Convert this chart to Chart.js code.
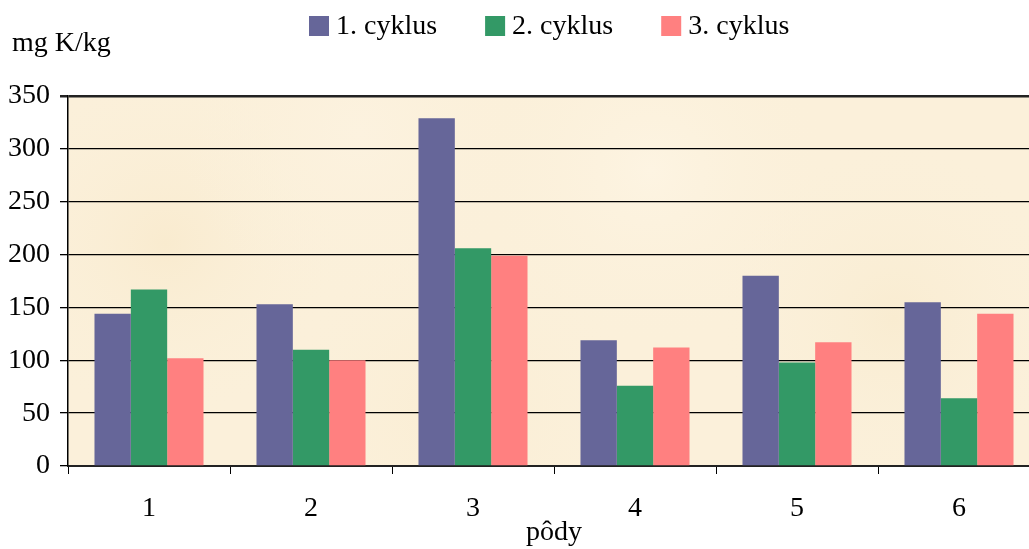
<!DOCTYPE html>
<html lang="sk">
<head>
<meta charset="UTF-8">
<title>Draslík v pôdach</title>
<script src="https://cdn.jsdelivr.net/npm/chart.js"></script>
<style>
  html, body { margin: 0; padding: 0; background: #fff; overflow: hidden; }
  #clip { width: 1029px; height: 549px; overflow: hidden; position: relative; }
  #wrap { width: 1041px; height: 549px; position: relative; }
</style>
</head>
<body>
<div id="clip"><div id="wrap"><canvas id="chart"></canvas></div></div>
<script>
// pôdy a obsah K v troch cykloch
const podyLabels = ['1', '2', '3', '4', '5', '6'];
const cyklus1 = [144, 153, 329, 119, 180, 155];
const cyklus2 = [167, 110, 206, 76, 98, 64];
const cyklus3 = [102, 100, 199, 112, 117, 144];
const seriesNames = ['1. cyklus', '2. cyklus', '3. cyklus'];
const seriesColors = ['#666699', '#339966', '#FF8080'];
const yTicks = [0, 50, 100, 150, 200, 250, 300, 350];

const serif = '"Liberation Serif", "Times New Roman", serif';
const fontSize = 28;

// béžové pozadie plochy grafu
const plotBg = {
    id: 'plotBg',
    beforeDraw(chart) {
        const { ctx, chartArea: a } = chart;
        const w = a.right - a.left, h = a.bottom - a.top;
        ctx.save();
        ctx.fillStyle = '#fbf0da';
        ctx.fillRect(a.left, a.top, w, h);
        const spots = [[0.1, 0.4, '#f9ebcf'], [0.4, 0.85, '#faedd3'], [0.6, 0.2, '#fdf4e2'],
                       [0.85, 0.6, '#f9ecd1'], [0.3, 0.1, '#fcf2df']];
        spots.forEach(([fx, fy, c]) => {
            const x = a.left + fx * w, y = a.top + fy * h;
            const g = ctx.createRadialGradient(x, y, 0, x, y, 180);
            g.addColorStop(0, c);
            g.addColorStop(1, 'rgba(251,240,218,0)');
            ctx.fillStyle = g;
            ctx.fillRect(a.left, a.top, w, h);
        });
        ctx.restore();
    }
};

// legenda a popis osi y
const legendAndUnit = {
    id: 'legendAndUnit',
    afterDraw(chart) {
        const { ctx } = chart;
        ctx.save();
        ctx.font = fontSize + 'px ' + serif;
        ctx.fillStyle = '#000';
        ctx.textBaseline = 'alphabetic';
        ctx.fillText('mg K/kg', 12, 51);

        let x = 309;
        chart.data.datasets.forEach(ds => {
            ctx.fillStyle = ds.backgroundColor;
            ctx.fillRect(x, 16, 20, 20);
            x += 27;
            ctx.fillStyle = '#000';
            ctx.fillText(ds.label, x, 34);
            x += ctx.measureText(ds.label).width + 48;
        });
        ctx.restore();
    }
};

new Chart(document.getElementById('chart'), {
    type: 'bar',
    data: {
        labels: podyLabels,
        datasets: [cyklus1, cyklus2, cyklus3].map((d, i) => ({
            label: seriesNames[i],
            data: d,
            backgroundColor: seriesColors[i],
            borderWidth: 0,
            categoryPercentage: 0.673,
            barPercentage: 1.0
        }))
    },
    options: {
        responsive: true,
        maintainAspectRatio: false,
        animation: false,
        layout: { padding: { left: 0, right: 1, top: 96, bottom: 0 } },
        plugins: {
            legend: { display: false },
            tooltip: { enabled: false }
        },
        scales: {
            x: {
                grid: {
                    offset: true,
                    drawOnChartArea: false,
                    color: '#000',
                    tickLength: 8,
                    lineWidth: 1
                },
                border: { color: '#222', width: 2 },
                ticks: { color: '#000', font: { family: serif, size: fontSize }, padding: 18 },
                title: {
                    display: true,
                    text: 'pôdy',
                    color: '#000',
                    font: { family: serif, size: fontSize },
                    padding: { top: 0, bottom: 0 }
                },
                afterFit(scale) { scale.height = 83; }
            },
            y: {
                min: 0,
                max: 350,
                afterBuildTicks(scale) { scale.ticks = yTicks.map(v => ({ value: v })); },
                ticks: {
                    color: '#000',
                    font: { family: serif, size: fontSize },
                    padding: 10
                },
                grid: {
                    color: ctx => ctx.tick && ctx.tick.value === 350 ? '#222' : '#000',
                    lineWidth: ctx => ctx.tick && ctx.tick.value === 350 ? 2.5 : 1.3,
                    tickLength: 8
                },
                border: { color: '#000', width: 1.5 },
                afterFit(scale) { scale.width = 68; }
            }
        }
    },
    plugins: [plotBg, legendAndUnit]
});
</script>
</body>
</html>
